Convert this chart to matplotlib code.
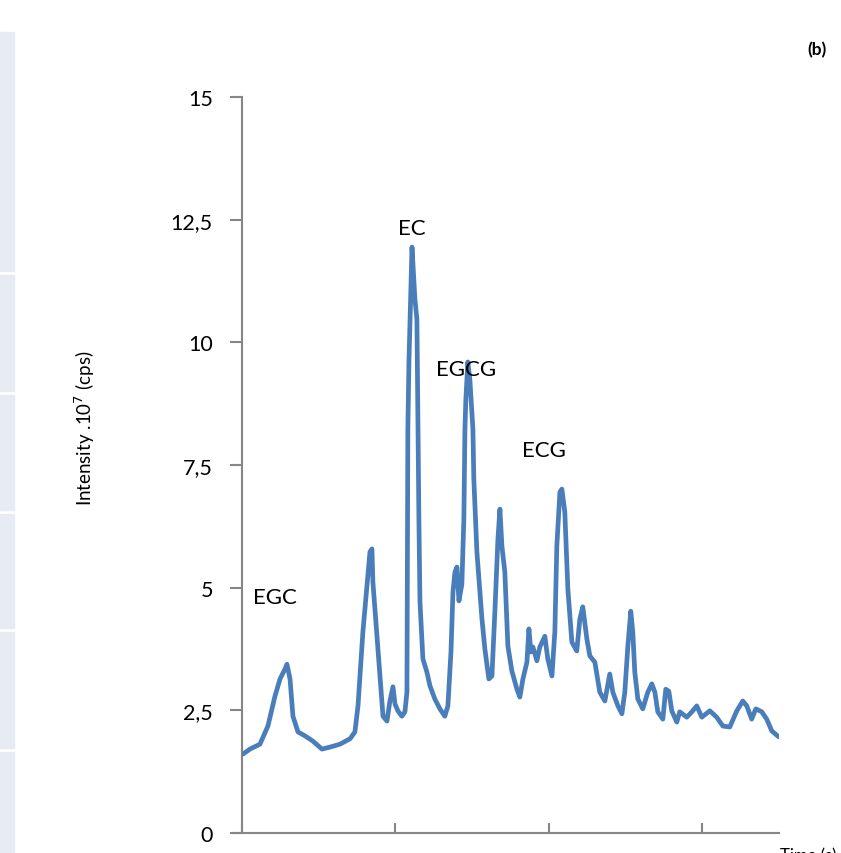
import matplotlib
matplotlib.use("Agg")
import matplotlib.pyplot as plt
from matplotlib.patches import Rectangle

# ---- data ----
time_min = [0.07, 0.52, 1.17, 1.69, 2.15, 2.48, 2.80, 2.93, 3.13, 3.32, 3.65, 4.10, 4.63, 5.21,
            5.73, 6.38, 7.04, 7.36, 7.56, 7.88, 8.14, 8.34, 8.47, 8.53, 8.80, 8.99, 9.19, 9.45,
            9.64, 9.84, 9.97, 10.16, 10.42, 10.62, 10.75, 10.81, 10.88, 11.08, 11.27, 11.40,
            11.47, 11.53, 11.60, 11.79, 12.05, 12.25, 12.57, 12.90, 13.22, 13.42, 13.62, 13.75,
            13.88, 14.01, 14.14, 14.33, 14.46, 14.53, 14.59, 14.72, 14.85, 15.05, 15.11, 15.31,
            15.64, 15.83, 16.09, 16.29, 16.48, 16.68, 16.81, 16.94, 17.13, 17.33, 17.59, 17.92,
            18.11, 18.31, 18.57, 18.70, 18.83, 18.96, 19.22, 19.41, 19.74, 19.93, 20.20, 20.39,
            20.52, 20.72, 20.85, 21.04, 21.24, 21.50, 21.82, 22.02, 22.21, 22.48, 22.67, 23.00,
            23.32, 23.65, 23.97, 24.17, 24.50, 24.76, 24.95, 25.15, 25.34, 25.47, 25.60, 25.80,
            26.12, 26.45, 26.71, 26.91, 27.10, 27.43, 27.62, 27.82, 28.01, 28.34, 28.53, 28.99,
            29.32, 29.64, 29.97, 30.49, 30.94, 31.34, 31.79, 32.25, 32.64, 32.90, 33.22, 33.49,
            33.88, 34.20, 34.53, 34.98]
intensity = [1.61, 1.71, 1.81, 2.18, 2.79, 3.14, 3.34, 3.44, 3.14, 2.38, 2.06, 1.98, 1.87, 1.71,
             1.75, 1.81, 1.92, 2.06, 2.59, 4.10, 5.03, 5.73, 5.79, 5.12, 4.01, 3.20, 2.38, 2.28,
             2.69, 2.98, 2.63, 2.49, 2.38, 2.47, 2.87, 8.23, 9.60, 11.94, 10.88, 10.47,
             8.23, 6.40, 4.71, 3.55, 3.28, 3.00, 2.73, 2.53, 2.38, 2.59, 3.69, 4.91,
             5.32, 5.42, 4.73, 5.07, 6.40, 8.23, 8.84, 9.60, 9.25, 8.23, 7.21, 5.73,
             4.36, 3.75, 3.14, 3.20, 4.50, 5.99, 6.60, 5.85, 5.32, 3.81, 3.30, 2.93,
             2.77, 3.14, 3.48, 4.16, 3.69, 3.79, 3.51, 3.79, 4.01, 3.55, 3.20, 4.10,
             5.85, 6.95, 7.01, 6.54, 4.97, 3.89, 3.71, 4.36, 4.61, 3.95, 3.61, 3.48,
             2.87, 2.69, 3.24, 2.87, 2.59, 2.43, 2.87, 3.81, 4.52, 4.10, 3.28, 2.73,
             2.53, 2.87, 3.04, 2.87, 2.47, 2.32, 2.93, 2.89, 2.49, 2.26, 2.47, 2.36,
             2.47, 2.59, 2.36, 2.49, 2.36, 2.18, 2.16, 2.49, 2.69, 2.59, 2.32, 2.53,
             2.47, 2.32, 2.08, 1.96]

peak_names = ["EGC", "EC", "EGCG", "ECG"]
peak_label_x = [2.15, 11.1, 14.6, 19.7]
peak_label_y = [4.8, 12.33, 9.45, 7.8]

y_ticks = [0, 2.5, 5, 7.5, 10, 12.5, 15]
y_tick_labels = ["0", "2,5", "5", "7,5", "10", "12,5", "15"]
x_ticks = [0, 10, 20, 30]

# ---- figure ----
W, H = 841, 854
fig = plt.figure(figsize=(W / 100, H / 100), dpi=100)
plt.rcParams['font.family'] = ['Lato', 'DejaVu Sans']

# left decorative strips
strip_col = "#e7ebf3"
bounds = [(33, 272), (276, 392), (396, 511), (515, 629), (633, 749), (753, 854)]
for y0, y1 in bounds:
    fig.patches.append(Rectangle((0, 1 - y1 / H), 14 / W, (y1 - y0) / H,
                                 transform=fig.transFigure, color=strip_col, zorder=0))

ax_left, ax_right = 242 / W, 779 / W
ax_bottom, ax_top = 1 - 834 / H, 1 - 98 / H
ax = fig.add_axes([ax_left, ax_bottom, ax_right - ax_left, ax_top - ax_bottom])

ax.plot(time_min, intensity, color="#4a7ebb", lw=3.4, solid_joinstyle="round",
        solid_capstyle="round", zorder=3)

ax.set_xlim(0, 35)
ax.set_ylim(0, 15)
ax.set_yticks(y_ticks)
ax.set_yticklabels(y_tick_labels, fontsize=15.5)
ax.set_xticks(x_ticks)
ax.set_xticklabels([])

axis_col = "#868686"
for s in ["top", "right"]:
    ax.spines[s].set_visible(False)
ax.spines["left"].set_color(axis_col)
ax.spines["left"].set_linewidth(1.5)
ax.spines["bottom"].set_color(axis_col)
ax.spines["bottom"].set_linewidth(1.5)
ax.spines["bottom"].set_bounds(-0.6, 35)
ax.tick_params(axis="y", direction="out", length=9, width=1.5, color=axis_col, pad=12)
ax.tick_params(axis="x", direction="in", length=7, width=1.5, color=axis_col)
ax.spines["bottom"].set_clip_on(False)

for name, px, py in zip(peak_names, peak_label_x, peak_label_y):
    ax.text(px, py, name, fontsize=16, ha="center", va="center", color="black")

fig.text(85 / W, 1 - 428 / H, "Intensity .10$^{7}$ (cps)", rotation=90,
         ha="center", va="center", fontsize=13.5)
fig.text(817 / W, 1 - 50 / H, "(b)", fontsize=12.5, fontweight="bold",
         ha="center", va="center")
fig.text(780 / W, 1 - 856 / H, "Time (s)", fontsize=12, ha="left", va="center")

fig.savefig("out.png", dpi=100)
